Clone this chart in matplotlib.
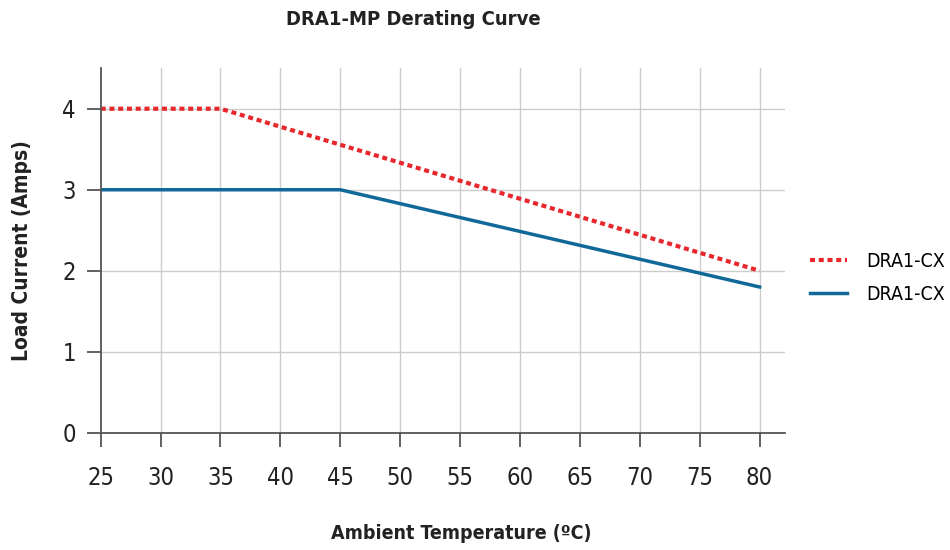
import matplotlib.pyplot as plt

plt.rcParams['font.family'] = ['DejaVu Sans']
plt.rcParams['font.stretch'] = 'condensed'

# Данні кривих зниження навантаження
temp_red = [25, 35, 80]
amps_red = [4, 4, 2]
temp_blue = [25, 45, 80]
amps_blue = [3, 3, 1.8]
x_ticks = [25, 30, 35, 40, 45, 50, 55, 60, 65, 70, 75, 80]
y_ticks = [0, 1, 2, 3, 4]

fig = plt.figure(figsize=(9.5, 5.5), dpi=100)
ax = fig.add_axes([0.106, 0.213, 0.72, 0.663])

ax.plot(temp_red, amps_red, color='#e8272d', linestyle=(0, (1.2, 0.9)), linewidth=3, label='DRA1-CX')
ax.plot(temp_blue, amps_blue, color='#11699a', linewidth=2.5, label='DRA1-CX')

ax.set_xlim(25, 82.1)
ax.set_ylim(0, 4.5)
ax.set_xticks(x_ticks)
ax.set_yticks(y_ticks)

for v in x_ticks[1:]:
    ax.axvline(v, color='#cccccc', linewidth=1, zorder=0)
for v in y_ticks[1:]:
    ax.axhline(v, color='#cccccc', linewidth=1, zorder=0)

for s in ['top', 'right']:
    ax.spines[s].set_visible(False)
for s in ['left', 'bottom']:
    ax.spines[s].set_color('#555555')
    ax.spines[s].set_linewidth(1.3)

ax.tick_params(axis='both', length=10, width=1.3, color='#555555', labelsize=17, labelcolor='#222222')
ax.tick_params(axis='x', pad=14)
ax.tick_params(axis='y', pad=8)

fig.text(0.435, 0.965, 'DRA1-MP Derating Curve', ha='center', va='center', fontsize=14.5, fontweight='bold', color='#222222')
fig.text(0.486, 0.03, 'Ambient Temperature (ºC)', ha='center', va='center', fontsize=14, fontweight='bold', color='#222222')
fig.text(0.023, 0.545, 'Load Current (Amps)', ha='center', va='center', rotation=90, fontsize=15, fontweight='bold', color='#222222')

ax.legend(loc='center left', bbox_to_anchor=(1.0, 0.425), frameon=False, fontsize=14, handlelength=1.9, handletextpad=1.0, labelspacing=0.7, borderaxespad=0.9)

plt.savefig('out.png')
